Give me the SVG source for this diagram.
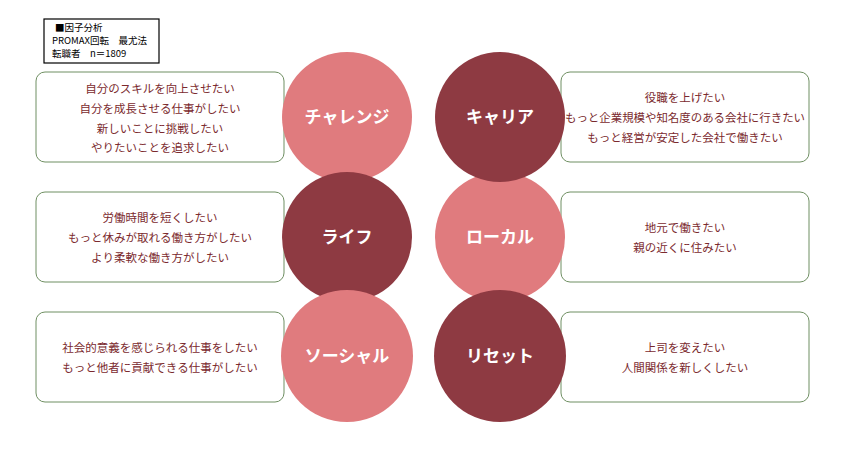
<svg xmlns="http://www.w3.org/2000/svg" width="846" height="450" viewBox="0 0 846 450">
<style>
text{font-family:"Noto Sans CJK JP","Liberation Sans",sans-serif}
.box{fill:#fff;stroke:#6f8f62;stroke-width:1}
.t{font-size:11.5px;fill:#7b2a2e;text-anchor:middle}
.c1{fill:#e07b7e}
.c2{fill:#8e3a42}
.lb{font-size:17px;font-weight:bold;fill:#fff;text-anchor:middle}
.lg{font-size:9.5px;fill:#000}
</style>
<rect width="846" height="450" fill="#fff"/>
<g id="legend"><rect x="44" y="19" width="115" height="44" fill="#fff" stroke="#000" stroke-width="1.2"/>
<text class="lg" x="55" y="31">■因子分析</text><text class="lg" x="52" y="44">PROMAX回転　最尤法</text><text class="lg" x="52" y="57">転職者　n＝1809</text></g>
<g id="boxes">
<rect class="box" x="36" y="72" width="248" height="90" rx="9"/>
<text class="t" x="160" y="93">自分のスキルを向上させたい</text><text class="t" x="160" y="113">自分を成長させる仕事がしたい</text><text class="t" x="160" y="133">新しいことに挑戦したい</text><text class="t" x="160" y="152">やりたいことを追求したい</text>
<rect class="box" x="36" y="192" width="248" height="90" rx="9"/>
<text class="t" x="160" y="222">労働時間を短くしたい</text><text class="t" x="160" y="242">もっと休みが取れる働き方がしたい</text><text class="t" x="160" y="262">より柔軟な働き方がしたい</text>
<rect class="box" x="36" y="312" width="248" height="90" rx="9"/>
<text class="t" x="160" y="352">社会的意義を感じられる仕事をしたい</text><text class="t" x="160" y="372">もっと他者に貢献できる仕事がしたい</text>
<rect class="box" x="561" y="72" width="248" height="90" rx="9"/>
<text class="t" x="685" y="102">役職を上げたい</text><text class="t" x="685" y="122" textLength="240" lengthAdjust="spacingAndGlyphs">もっと企業規模や知名度のある会社に行きたい</text><text class="t" x="685" y="142">もっと経営が安定した会社で働きたい</text>
<rect class="box" x="561" y="192" width="248" height="90" rx="9"/>
<text class="t" x="685" y="232">地元で働きたい</text><text class="t" x="685" y="252">親の近くに住みたい</text>
<rect class="box" x="561" y="312" width="248" height="90" rx="9"/>
<text class="t" x="685" y="352">上司を変えたい</text><text class="t" x="685" y="372">人間関係を新しくしたい</text>
</g>
<g id="circles">
<circle class="c1" cx="347" cy="117" r="65"/><text class="lb" x="347" y="123">チャレンジ</text>
<circle class="c2" cx="347" cy="237" r="65"/><text class="lb" x="347" y="243">ライフ</text>
<circle class="c1" cx="347" cy="356" r="66"/><text class="lb" x="347" y="362">ソーシャル</text>
<circle class="c1" cx="500" cy="237" r="65"/><text class="lb" x="500" y="243">ローカル</text>
<circle class="c2" cx="500" cy="117" r="65"/><text class="lb" x="500" y="123">キャリア</text>
<circle class="c2" cx="500" cy="356" r="66"/><text class="lb" x="500" y="362">リセット</text>
</g>
<g id="connectors"/>
</svg>
